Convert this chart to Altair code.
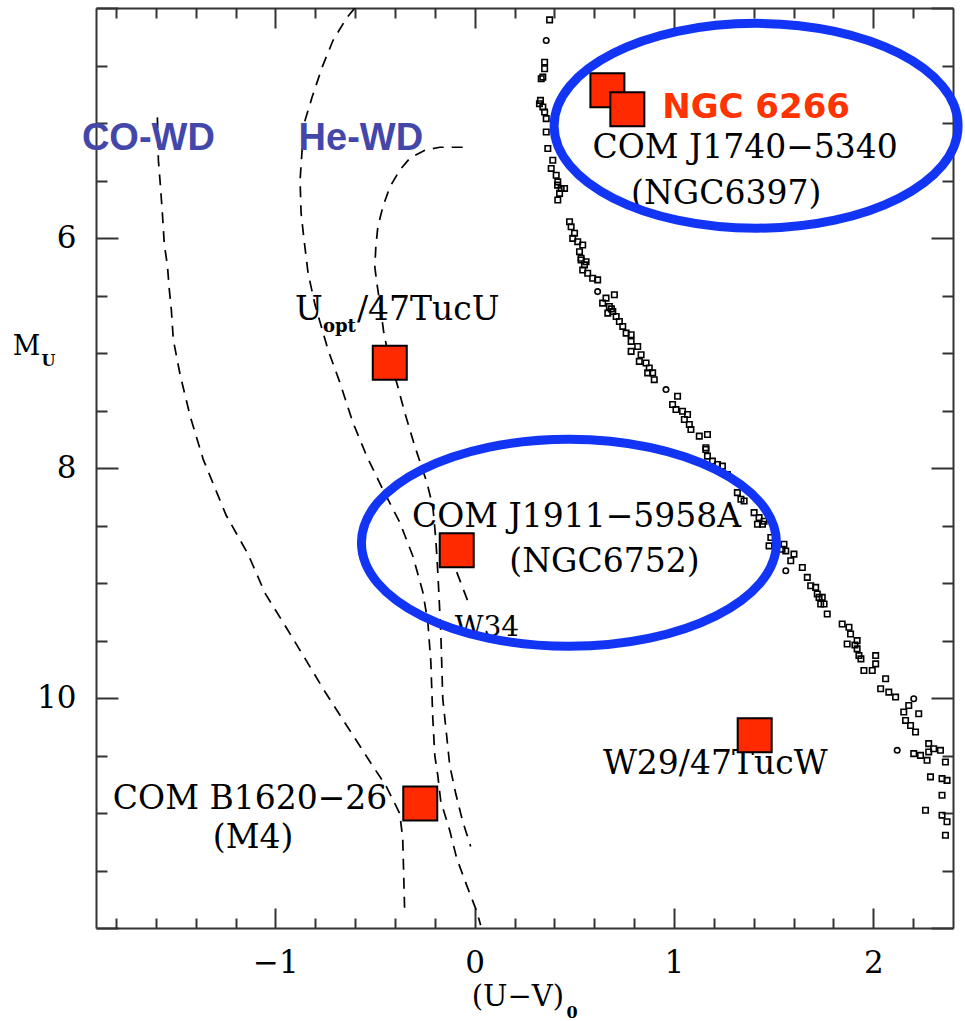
import altair as alt
import pandas as pd

# ---------------- data ----------------
# main-sequence stars (U-V)_0 , M_U
ms_x = [0.376, 0.359, 0.351, 0.351, 0.342, 0.334, 0.325, 0.342, 0.351, 0.359,
        0.359, 0.367, 0.392, 0.384, 0.409, 0.417, 0.434, 0.451, 0.426, 0.417,
        0.476, 0.484, 0.501, 0.492, 0.517, 0.542, 0.526, 0.534, 0.559, 0.534,
        0.551, 0.542, 0.567, 0.592, 0.617, 0.617, 0.659, 0.701, 0.642, 0.676,
        0.693, 0.668, 0.710, 0.726, 0.743, 0.760, 0.785, 0.785, 0.818, 0.785,
        0.835, 0.826, 0.860, 0.876, 0.868, 0.893, 0.901, 0.960, 1.018, 0.993,
        1.010, 1.043, 1.068, 1.052, 1.077, 1.085, 1.127, 1.168, 1.160, 1.160,
        1.168, 1.193, 1.218, 1.243, 1.268, 1.318, 1.336, 1.352, 1.402, 1.427,
        1.419, 1.444, 1.477, 1.486, 1.552, 1.561, 1.602, 1.586, 1.561, 1.644,
        1.669, 1.686, 1.711, 1.719, 1.744, 1.753, 1.728, 1.736, 1.769, 1.844,
        1.878, 1.886, 1.869, 1.919, 1.919, 1.928, 2.012, 2.012, 1.953, 1.995,
        2.062, 2.037, 2.078, 2.112, 2.203, 2.178, 2.153, 2.228, 2.162, 2.187,
        2.212, 2.120, 2.203, 2.237, 2.278, 2.278, 2.270, 2.337, 2.362, 2.287,
        2.345, 2.370, 2.345, 2.262, 2.345, 2.370, 2.362, 0.330, 0.416, 0.686,
        1.452, 1.542, 1.908, 1.938, 2.303]
ms_y = [4.103, 4.283, 4.471, 4.528, 4.601, 4.615, 4.832, 4.861, 4.905, 4.962,
        5.078, 5.222, 5.324, 5.395, 5.454, 5.512, 5.569, 5.569, 5.612, 5.670,
        5.859, 5.902, 5.959, 6.003, 6.032, 6.061, 6.119, 6.176, 6.206, 6.191,
        6.234, 6.278, 6.306, 6.350, 6.364, 6.466, 6.523, 6.494, 6.566, 6.596,
        6.639, 6.653, 6.683, 6.726, 6.769, 6.827, 6.841, 6.899, 6.943, 6.986,
        7.015, 7.073, 7.087, 7.130, 7.173, 7.173, 7.232, 7.318, 7.376, 7.448,
        7.492, 7.507, 7.535, 7.578, 7.622, 7.665, 7.723, 7.709, 7.824, 7.839,
        7.897, 7.940, 7.969, 7.984, 8.056, 8.214, 8.272, 8.287, 8.388, 8.431,
        8.489, 8.489, 8.677, 8.604, 8.663, 8.721, 8.749, 8.807, 8.894, 8.865,
        8.951, 9.024, 9.038, 9.096, 9.125, 9.183, 9.125, 9.183, 9.270, 9.356,
        9.385, 9.443, 9.530, 9.501, 9.573, 9.631, 9.631, 9.703, 9.761, 9.761,
        9.833, 9.920, 9.949, 9.992, 10.007, 10.065, 10.122, 10.137, 10.195, 10.239,
        10.296, 10.455, 10.484, 10.499, 10.397, 10.469, 10.542, 10.455, 10.556, 10.686,
        10.701, 10.716, 10.846, 10.976, 11.019, 11.076, 11.193, 4.803, 5.540, 6.616,
        8.463, 8.706, 9.539, 9.660, 10.441]
ms_circles = [1, 35, 57, 88, 114, 121]

# white-dwarf cooling tracks (dashed)
cowd_x = [-1.592, -1.587, -1.577, -1.567, -1.557, -1.542, -1.532, -1.522, -1.512, -1.477,
          -1.427, -1.362, -1.247, -1.137, -1.052, -0.941, -0.826, -0.751, -0.671, -0.596,
          -0.516, -0.446, -0.376, -0.361, -0.351]
cowd_y = [4.951, 5.324, 5.540, 5.783, 6.061, 6.234, 6.451, 6.624, 6.885, 7.197,
          7.552, 7.925, 8.411, 8.749, 9.088, 9.400, 9.729, 9.946, 10.163, 10.363,
          10.579, 10.761, 11.004, 11.221, 11.872]
hewd1_x = [-0.601, -0.641, -0.711, -0.766, -0.816, -0.851, -0.866, -0.876, -0.871, -0.856,
           -0.836, -0.801, -0.736, -0.676, -0.611, -0.541, -0.461, -0.376, -0.310, -0.260,
           -0.235, -0.220, -0.210, -0.200, -0.185, -0.170, -0.125, -0.090, -0.040, 0.010, 0.030]
hewd1_y = [4.0, 4.083, 4.283, 4.517, 4.777, 4.977, 5.237, 5.497, 5.783, 6.017,
           6.304, 6.581, 6.971, 7.258, 7.605, 7.899, 8.186, 8.472, 8.767, 9.079,
           9.339, 9.686, 10.180, 10.501, 10.675, 10.900, 11.152, 11.395, 11.629, 11.854, 11.976]
hewd2_x = [-0.060, -0.175, -0.250, -0.325, -0.376, -0.426, -0.461, -0.486, -0.496, -0.501,
           -0.491, -0.476, -0.456, -0.426, -0.391, -0.351, -0.300, -0.240, -0.210, -0.195,
           -0.185, -0.170, -0.160, -0.140, -0.125, -0.095, -0.060, -0.020]
hewd2_y = [5.211, 5.211, 5.237, 5.306, 5.410, 5.558, 5.731, 5.905, 6.078, 6.252,
           6.390, 6.564, 6.824, 7.075, 7.258, 7.518, 7.813, 8.125, 8.333, 8.619,
           8.905, 9.426, 10.007, 10.337, 10.588, 10.831, 11.074, 11.291]
w34_x = [-0.090, -0.025]
w34_y = [8.905, 9.200]

# companions (red squares)
com_x = [0.666, 0.766, -0.426, -0.090, -0.273, 1.405]
com_y = [4.716, 4.881, 7.084, 8.715, 10.918, 10.323]

# annotations
lab_text = ["COM J1740\u22125340", "(NGC6397)", "COM J1911\u22125958A", "(NGC6752)",
            "W29/47TucW", "COM B1620\u221226", "(M4)"]
lab_x = [1.357, 1.262, 0.511, 0.651, 1.207, -1.127, -1.112]
lab_y = [5.306, 5.705, 8.515, 8.905, 10.657, 10.961, 11.308]

wd_text = ["CO-WD", "He-WD"]
wd_x = [-1.637, -0.571]
wd_y = [5.237, 5.237]

ngc_text = ["NGC 6266"]
ngc_x = [1.412]
ngc_y = [4.959]

uopt_main_text = ["U", "/47TucU"]
uopt_main_x = [-0.901, -0.591]
uopt_main_y = [6.711, 6.711]
uopt_sub_text = ["opt"]
uopt_sub_x = [-0.761]
uopt_sub_y = [6.815]

w34_text = ["W34"]
w34_tx = [-0.100]
w34_ty = [9.461]

ell_x = [1.412, 0.473]
ell_y = [5.024, 8.650]

xtitle_text = ["(U\u2212V)"]
xtitle_x = [-0.015]
xtitle_y = [12.678]
xsub_text = ["0"]
xsub_x = [0.461]
xsub_y = [12.782]
ytitle_text = ["M"]
ytitle_x = [-2.318]
ytitle_y = [7.015]
ysub_text = ["U"]
ysub_x = [-2.173]
ysub_y = [7.110]

x_major = [-1, 0, 1, 2]
x_minor = [-1.8, -1.6, -1.4, -1.2, -0.8, -0.6, -0.4, -0.2, 0.2, 0.4, 0.6, 0.8,
           1.2, 1.4, 1.6, 1.8, 2.2]
y_labels = [6, 8, 10]
y_major = [4, 6, 8, 10, 12]
y_minor = [4.5, 5, 5.5, 6.5, 7, 7.5, 8.5, 9, 9.5, 10.5, 11, 11.5]

# ---------------- styling ----------------
W, H = 857, 920
AX = "#333333"
SERIF = "DejaVu Serif"
RED = "#FF2A00"
BLUE = "#1234F5"
WDBLUE = "#4447AA"

xs = alt.Scale(domain=[-1.9, 2.4], nice=False, zero=False)
ys = alt.Scale(domain=[4, 12], reverse=True, nice=False, zero=False)


def tick_axis(orient, values, size, offset, domain=False):
    return alt.Axis(orient=orient, values=values, tickSize=size, offset=offset,
                    labels=False, domain=domain, domainColor=AX, domainWidth=2,
                    ticks=True, tickColor=AX, tickWidth=2, title=None, grid=False)


def pos(xaxis=None, yaxis=None):
    return dict(x=alt.X("x:Q", scale=xs, axis=xaxis), y=alt.Y("y:Q", scale=ys, axis=yaxis))


def tdf(t, x, y):
    return pd.DataFrame({"t": t, "x": x, "y": y})


def ellipse_path(r):
    k = 0.5523
    return (f"M-1,0C-1,{-k*r:.4f} {-k},{-r} 0,{-r}C{k},{-r} 1,{-k*r:.4f} 1,0"
            f"C1,{k*r:.4f} {k},{r} 0,{r}C{-k},{r} -1,{k*r:.4f} -1,0Z")


# ---------------- layers ----------------
ms_df = pd.DataFrame({"x": ms_x, "y": ms_y,
                      "shape": ["circle" if i in ms_circles else "square" for i in range(len(ms_x))]})
ms_layer = alt.Chart(ms_df).mark_point(filled=False, color="black", strokeWidth=1.6,
                                       size=30, opacity=1).encode(
    **pos(alt.Axis(orient="bottom", values=x_major, ticks=False, labelPadding=20,
                   labelFont=SERIF, labelFontSize=31, labelColor="black",
                   domainColor=AX, domainWidth=2, title=None, grid=False, labelFlush=False),
          alt.Axis(orient="left", values=y_labels, ticks=False, labelPadding=20,
                   labelFont=SERIF, labelFontSize=31, labelColor="black",
                   domainColor=AX, domainWidth=2, title=None, grid=False, labelFlush=False)),
    shape=alt.Shape("shape:N", scale=None),
)


def cdf(name, x, y):
    return pd.DataFrame({"x": x, "y": y, "curve": name, "i": list(range(len(x)))})


curves = pd.concat([cdf("CO", cowd_x, cowd_y), cdf("He1", hewd1_x, hewd1_y),
                    cdf("He2", hewd2_x, hewd2_y), cdf("W34", w34_x, w34_y)])
curve_layer = alt.Chart(curves).mark_line(color="black", strokeWidth=1.7,
                                          strokeDash=[11, 8], clip=True).encode(
    **pos(tick_axis("top", x_major, 20, -H), tick_axis("right", y_major, 22, -W)),
    detail="curve:N", order="i:Q",
)

lab_layer = alt.Chart(tdf(lab_text, lab_x, lab_y)).mark_text(
    font=SERIF, fontSize=33, color="black", align="center", baseline="alphabetic").encode(
    **pos(tick_axis("top", x_minor, 10, -H), tick_axis("right", y_minor, 11, -W)), text="t:N")

w34_layer = alt.Chart(tdf(w34_text, w34_tx, w34_ty)).mark_text(
    font=SERIF, fontSize=28, color="black", align="left", baseline="alphabetic").encode(
    **pos(), text="t:N")

uopt_layer = alt.Chart(tdf(uopt_main_text, uopt_main_x, uopt_main_y)).mark_text(
    font=SERIF, fontSize=33, color="black", align="left", baseline="alphabetic").encode(
    **pos(), text="t:N")
uopt_sub_layer = alt.Chart(tdf(uopt_sub_text, uopt_sub_x, uopt_sub_y)).mark_text(
    font=SERIF, fontSize=18, fontWeight="bold", color="black", align="left",
    baseline="alphabetic").encode(**pos(), text="t:N")

wd_layer = alt.Chart(tdf(wd_text, wd_x, wd_y)).mark_text(
    font="Liberation Sans", fontSize=38, fontWeight="bold", color=WDBLUE, align="center",
    baseline="alphabetic").encode(**pos(), text="t:N")

com_layer = alt.Chart(pd.DataFrame({"x": com_x, "y": com_y})).mark_point(
    shape="square", filled=True, fill=RED, stroke="black", strokeWidth=2, size=1156,
    opacity=1).encode(
    **pos(tick_axis("bottom", x_major, 20, -H, domain=True),
          tick_axis("left", y_major, 22, -W, domain=True)))

ell_top = alt.Chart(pd.DataFrame({"x": ell_x[:1], "y": ell_y[:1]})).mark_point(
    shape=ellipse_path(0.507), filled=False, stroke=BLUE, strokeWidth=9, size=404 ** 2,
    opacity=1).encode(
    **pos(tick_axis("bottom", x_minor, 10, -H), tick_axis("left", y_minor, 11, -W)))
ell_bot = alt.Chart(pd.DataFrame({"x": ell_x[1:], "y": ell_y[1:]})).mark_point(
    shape=ellipse_path(0.499), filled=False, stroke=BLUE, strokeWidth=9, size=415 ** 2,
    opacity=1).encode(**pos())

ngc_layer = alt.Chart(tdf(ngc_text, ngc_x, ngc_y)).mark_text(
    font="DejaVu Sans", fontSize=34, fontWeight="bold", color="#FF3300", align="center",
    baseline="alphabetic").encode(**pos(), text="t:N")

xt_layer = alt.Chart(tdf(xtitle_text, xtitle_x, xtitle_y)).mark_text(
    font=SERIF, fontSize=29, color="black", align="left", baseline="alphabetic").encode(
    **pos(), text="t:N")
xs_layer = alt.Chart(tdf(xsub_text, xsub_x, xsub_y)).mark_text(
    font=SERIF, fontSize=16, fontWeight="bold", color="black", align="left",
    baseline="alphabetic").encode(**pos(), text="t:N")
yt_layer = alt.Chart(tdf(ytitle_text, ytitle_x, ytitle_y)).mark_text(
    font=SERIF, fontSize=27, color="black", align="left", baseline="alphabetic").encode(
    **pos(), text="t:N")
ysb_layer = alt.Chart(tdf(ysub_text, ysub_x, ysub_y)).mark_text(
    font=SERIF, fontSize=16, fontWeight="bold", color="black", align="left",
    baseline="alphabetic").encode(**pos(), text="t:N")

chart = alt.layer(
    ms_layer, curve_layer, lab_layer, w34_layer, uopt_layer, uopt_sub_layer, wd_layer,
    com_layer, ell_top, ell_bot, ngc_layer, xt_layer, xs_layer, yt_layer, ysb_layer,
).resolve_axis(x="independent", y="independent").properties(
    width=W, height=H, autosize="none",
    padding={"left": 96, "top": 8, "right": 12, "bottom": 93},
    background="white",
).configure_view(stroke=None).configure_axis(grid=False)

chart.save("out.html", embed_options={"renderer": "svg", "actions": False})
